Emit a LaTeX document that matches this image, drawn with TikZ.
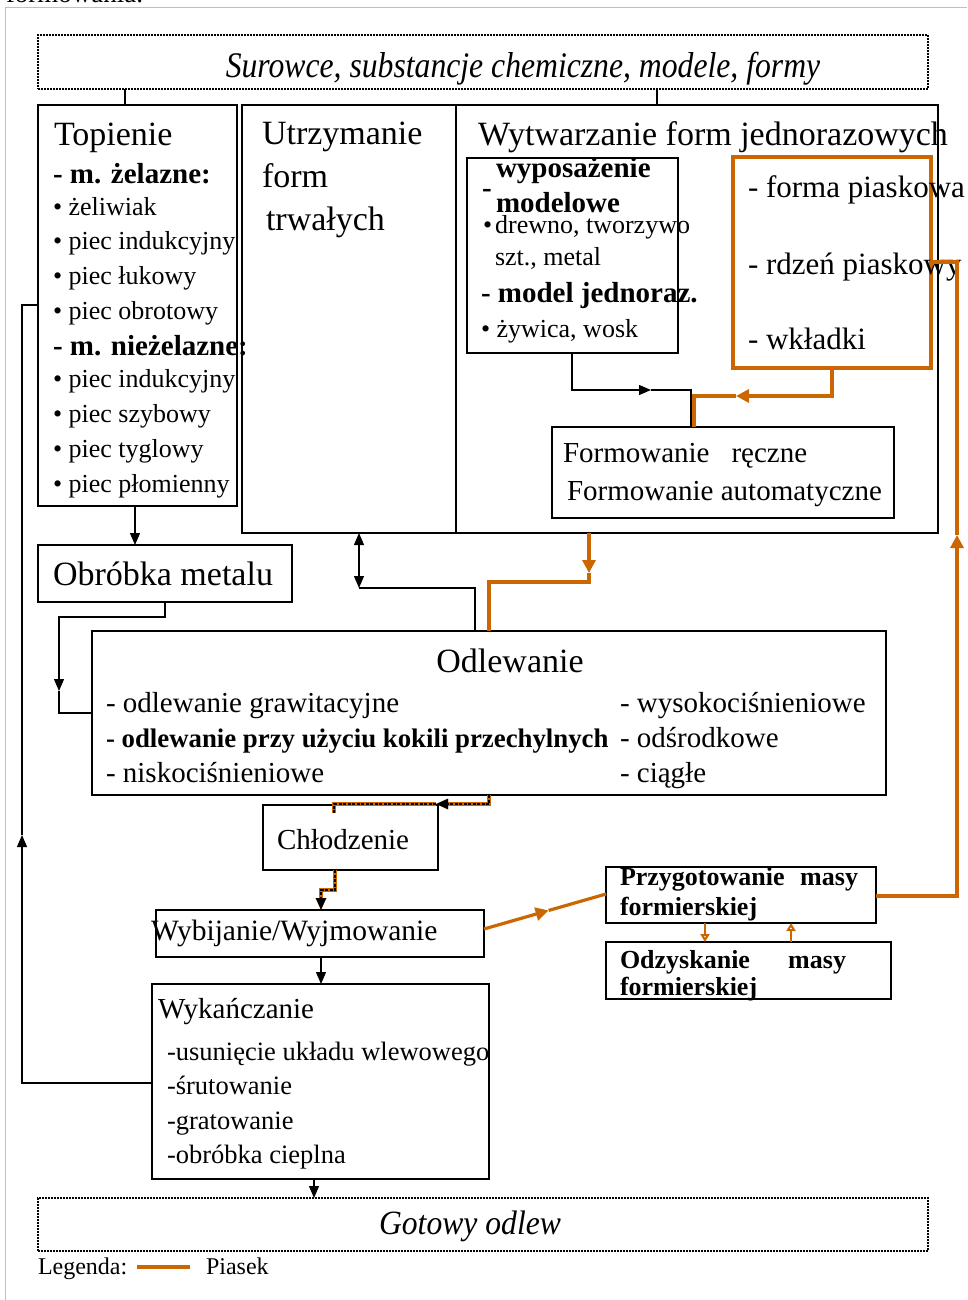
\documentclass[tikz,border=0pt]{standalone}
\usepackage{fontspec}
\usepackage{graphicx}
\setmainfont{Liberation Serif}
\usetikzlibrary{arrows.meta,calc}
\definecolor{sand}{RGB}{204,102,0}
\newcommand{\fz}[1]{\fontsize{#1pt}{#1pt}\selectfont}
\begin{document}
\begin{tikzpicture}[x=1pt,y=-1pt,
  box/.style={draw,line width=1.2pt,inner sep=0pt,outer sep=0pt,anchor=north west},
  dbox/.style={box,line width=1.1pt,dash pattern=on 2pt off 1pt},
  obox/.style={box,draw=sand,line width=3.2pt},
  txt/.style={anchor=base west,inner sep=0pt,outer sep=0pt},
  ctxt/.style={anchor=base,inner sep=0pt,outer sep=0pt},
  conn/.style={line width=1.2pt},
  sandline/.style={color=sand,line width=3.2pt},
  tip/.style={-{Triangle[length=12pt,width=10pt]}},
  otip/.style={-{Triangle[length=13pt,width=13pt]}},
  dashsand/.style={line width=1.8pt,dash pattern=on 3pt off 1.5pt,preaction={draw=sand,line width=3.4pt,solid}},
  ret/.style={color=sand,line width=2pt,-{Triangle[open,length=8pt,width=9pt]}},
]
\fill[white] (0,0) rectangle (967,1300);
\useasboundingbox (0,0) rectangle (967,1300);
\draw[black!25,line width=1pt] (5,1300) -- (5,8) -- (967,8);
\node[txt] (frag) at (6,3) {\fz{27}formowania.};

% boxes
\node[dbox,minimum width=890pt,minimum height=54pt] (src) at (38,35) {};
\node[box,minimum width=199pt,minimum height=401pt] (top) at (38,105) {};
\node[box,minimum width=696pt,minimum height=428pt] (big) at (242,105) {};
\draw[conn] (456,0 |- big.north) -- (456,0 |- big.south);
\node[box,minimum width=211pt,minimum height=195pt] (wyp) at (467,158) {};
\node[obox,minimum width=198pt,minimum height=211pt] (ob) at (733,157) {};
\node[box,minimum width=342pt,minimum height=91pt] (form) at (552,427) {};
\node[box,minimum width=254pt,minimum height=57pt] (obr) at (38,545) {};
\node[box,minimum width=794pt,minimum height=164pt] (odl) at (92,631) {};
\node[box,minimum width=175pt,minimum height=65pt] (chl) at (263,805) {};
\node[box,minimum width=328pt,minimum height=47pt] (wyb) at (156,910) {};
\node[box,minimum width=337pt,minimum height=195pt] (wyk) at (152,984) {};
\node[box,minimum width=270pt,minimum height=56pt] (prz) at (606,867) {};
\node[box,minimum width=285pt,minimum height=57pt] (odz) at (606,942) {};
\node[dbox,minimum width=890pt,minimum height=53pt] (got) at (38,1198) {};

% texts
\node[ctxt] (srct) at (523,78) {\scalebox{0.88}[1]{\fz{36}\itshape Surowce, substancje chemiczne, modele, formy}};
\node[txt] (t1) at (54,146) {\fz{34}Topienie};
\node[txt] (t2) at (53,183) {\fz{29}\bfseries - m. żelazne:};
\node[txt] (t3) at (53,215) {\fz{26}• żeliwiak};
\node[txt] (t4) at (53,249) {\fz{26}• piec indukcyjny};
\node[txt] (t5) at (53,284) {\fz{26}• piec łukowy};
\node[txt] (t6) at (53,319) {\fz{26}• piec obrotowy};
\node[txt] (t7) at (53,355) {\fz{29}\bfseries - m. nieżelazne:};
\node[txt] (t8) at (53,387) {\fz{26}• piec indukcyjny};
\node[txt] (t9) at (53,422) {\fz{26}• piec szybowy};
\node[txt] (t10) at (53,457) {\fz{26}• piec tyglowy};
\node[txt] (t11) at (53,492) {\fz{26}• piec płomienny};

\node[txt] (u1) at (262,145) {\fz{34}Utrzymanie};
\node[txt] (u2) at (262,187) {\fz{34}form};
\node[txt] (u3) at (266,230) {\fz{34}trwałych};

\node[txt] (w0) at (478,146) {\fz{34}Wytwarzanie form jednorazowych};
\node[txt] (w1) at (482,197) {\fz{29}\bfseries -};
\node[txt] (w2) at (496,178) {\fz{29}\bfseries wyposażenie};
\node[txt] (w3) at (496,212) {\fz{29}\bfseries modelowe};
\node[txt] (w4) at (483,233) {\fz{26}•\hspace{3pt}drewno, tworzywo};
\node[txt] (w5) at (495,265) {\fz{26}szt., metal};
\node[txt] (w6) at (481,302) {\fz{29}\bfseries - model jednoraz.};
\node[txt] (w7) at (481,337) {\fz{26}• żywica, wosk};

\node[txt] (p1) at (748,197) {\fz{31}- forma piaskowa};
\node[txt] (p2) at (748,274) {\fz{31}- rdzeń piaskowy};
\node[txt] (p3) at (748,349) {\fz{31}- wkładki};

\node[txt] (f1) at (563,462) {\fz{29}Formowanie\hspace*{22pt}ręczne};
\node[txt] (f2) at (567,500) {\fz{29}Formowanie automatyczne};

\node[txt] (o0) at (53,585) {\fz{34}Obróbka metalu};

\node[ctxt] (d0) at (510,672) {\fz{34}Odlewanie};
\node[txt] (d1) at (106,712) {\fz{29}- odlewanie grawitacyjne};
\node[txt] (d2) at (106,747) {\fz{26.8}\bfseries - odlewanie przy użyciu kokili przechylnych};
\node[txt] (d3) at (106,782) {\fz{29}- niskociśnieniowe};
\node[txt] (d4) at (620,712) {\fz{29}- wysokociśnieniowe};
\node[txt] (d5) at (620,747) {\fz{29}- odśrodkowe};
\node[txt] (d6) at (620,782) {\fz{29}- ciągłe};

\node[txt] (c0) at (277,849) {\fz{29}Chłodzenie};
\node[txt] (b0) at (151,940) {\fz{29.5}Wybijanie/Wyjmowanie};

\node[txt] (k0) at (158,1018) {\fz{29}Wykańczanie};
\node[txt] (k1) at (167,1060) {\fz{26.5}-usunięcie układu wlewowego};
\node[txt] (k2) at (167,1094) {\fz{26.5}-śrutowanie};
\node[txt] (k3) at (167,1129) {\fz{26.5}-gratowanie};
\node[txt] (k4) at (167,1163) {\fz{26.5}-obróbka cieplna};

\node[txt] (r1) at (620,885) {\fz{26}\bfseries\hbox to 238pt{Przygotowanie\hfill masy}};
\node[txt] (r2) at (620,915) {\fz{26}\bfseries formierskiej};
\node[txt] (s1) at (620,968) {\fz{26}\bfseries\hbox to 226pt{Odzyskanie\hfill masy}};
\node[txt] (s2) at (620,995) {\fz{26}\bfseries formierskiej};

\node[ctxt] (g0) at (470,1234) {\scalebox{0.93}[1]{\fz{34}\itshape Gotowy odlew}};
\node[txt] (l0) at (38,1274) {\fz{24}Legenda:};
\node[txt] (l1) at (206,1274) {\fz{24}Piasek};
\draw[color=sand,line width=4pt] (137,1267) -- (190,1267);

% connector helper points
\coordinate (c1) at (334,813);
\coordinate (a1) at (651,390);
\coordinate (a2) at (736,396);
\coordinate (a3) at (589,573);
\coordinate (a4) at (359,588);
\coordinate (a5) at (59,691);
\coordinate (a6) at (436,804);
\coordinate (a7) at (22,835);
\coordinate (a8) at ($(wyb.east |- 0,929)!0.53!(prz.west |- 0,894)$);
\coordinate (a9) at (957,535);

% connectors
\draw[conn] (125,0 |- src.south) -- (125,0 |- top.north);
\draw[conn] (657,0 |- src.south) -- (657,0 |- big.north);
\draw[conn,tip] (135,0 |- top.south) -- (135,0 |- obr.north);

\draw[sandline,otip] (832,0 |- ob.south) -- (832,396) -- (a2);
\draw[sandline] (a2) -- (694,396) -- (694,0 |- form.north);
\draw[conn,tip] (572,0 |- wyp.south) -- (572,390) -- (a1);
\draw[conn] (a1) -- (691,390) -- (691,0 |- form.north);

\draw[sandline,otip] (589,0 |- big.south) -- (a3);
\draw[sandline] (a3) -- (589,582) -- (489,582) -- (489,0 |- odl.north);

\draw[conn,{Triangle[length=12pt,width=10pt]}-{Triangle[length=12pt,width=10pt]}] (359,0 |- big.south) -- (a4);
\draw[conn] (a4) -- (475,588) -- (475,0 |- odl.north);

\draw[conn,tip] (165,0 |- obr.south) -- (165,617) -- (59,617) -- (a5);
\draw[conn] (a5) -- (59,713) -- (odl.west |- 0,713);

\draw[dashsand,tip] (489,0 |- odl.south) -- (489,804) -- (a6);
\draw[dashsand] (a6) -- (334,804) -- (c1);
\draw[dashsand,tip] (335,0 |- chl.south) -- (335,890) -- (321,890) -- (321,0 |- wyb.north);

\draw[conn,tip] (321,0 |- wyb.south) -- (321,0 |- wyk.north);
\draw[conn,tip] (314,0 |- wyk.south) -- (314,0 |- got.north);

\draw[conn,tip] (wyk.west |- 0,1083) -- (22,1083) -- (a7);
\draw[conn] (a7) -- (22,305) -- (top.west |- 0,305);

\draw[sandline,otip] (wyb.east |- 0,929) -- (a8);
\draw[sandline] (a8) -- (prz.west |- 0,894);

\draw[ret] (705,0 |- prz.south) -- (705,0 |- odz.north);
\draw[ret] (791,0 |- odz.north) -- (791,0 |- prz.south);

\draw[sandline,otip] (prz.east |- 0,896) -- (957,896) -- (a9);
\draw[sandline] (a9) -- (957,262) -- (ob.east |- 0,262);
\end{tikzpicture}
\end{document}
